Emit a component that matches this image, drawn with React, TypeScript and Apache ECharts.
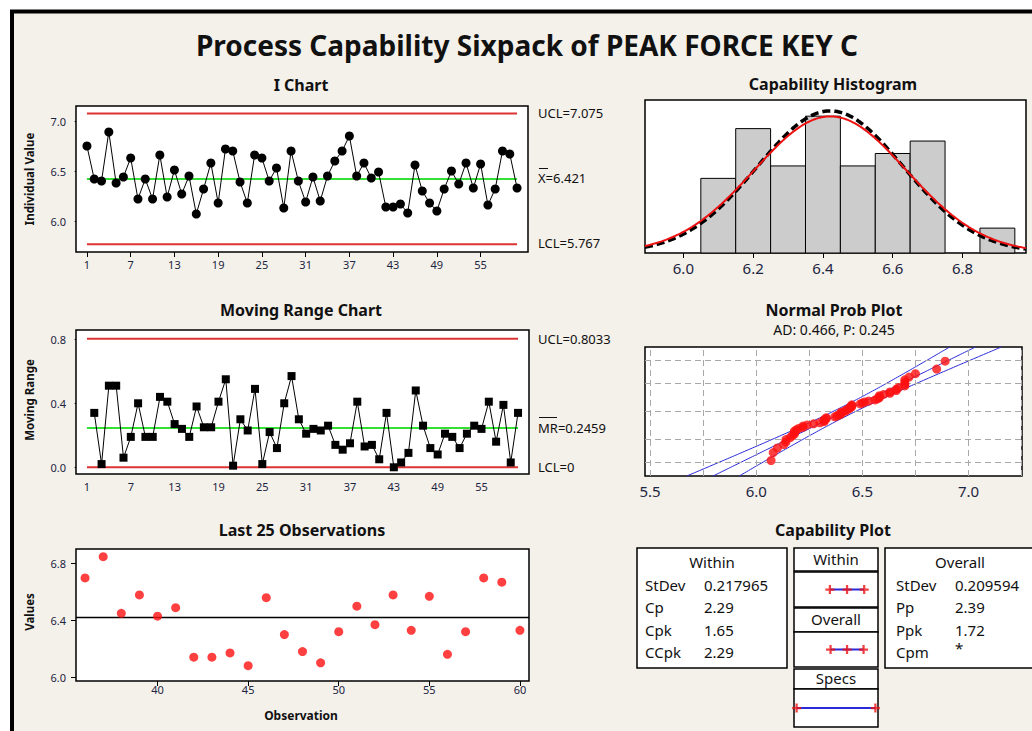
import React, { useEffect, useRef } from 'react';
import * as echarts from 'echarts';

// ---------------- data ----------------
const iValues = [
  6.75, 6.42, 6.40, 6.89, 6.38, 6.44, 6.63, 6.22, 6.42, 6.22,
  6.66, 6.24, 6.51, 6.27, 6.45, 6.07, 6.32, 6.58, 6.18, 6.72,
  6.70, 6.39, 6.18, 6.66, 6.63, 6.40, 6.53, 6.13, 6.70, 6.40,
  6.19, 6.44, 6.20, 6.45, 6.60, 6.70, 6.85, 6.45, 6.58, 6.43,
  6.49, 6.14, 6.14, 6.17, 6.08, 6.56, 6.30, 6.18, 6.10, 6.32,
  6.50, 6.37, 6.58, 6.33, 6.57, 6.16, 6.32, 6.70, 6.67, 6.33,
];
// moving ranges, observations 2..60
const mrValues = [
  0.34, 0.02, 0.51, 0.51, 0.06, 0.19, 0.40, 0.19, 0.19,
  0.44, 0.41, 0.27, 0.24, 0.19, 0.38, 0.25, 0.25, 0.41, 0.55,
  0.01, 0.30, 0.23, 0.49, 0.02, 0.22, 0.12, 0.40, 0.57, 0.30,
  0.21, 0.24, 0.23, 0.26, 0.14, 0.11, 0.15, 0.41, 0.13, 0.14,
  0.05, 0.34, 0.00, 0.03, 0.09, 0.48, 0.26, 0.12, 0.08, 0.21,
  0.19, 0.12, 0.21, 0.26, 0.24, 0.41, 0.16, 0.39, 0.03, 0.34,
];
const lastCount = 25;

const obsTicks = [1, 7, 13, 19, 25, 31, 37, 43, 49, 55];
const iYTicks = [6.0, 6.5, 7.0];
const mrYTicks = [0.0, 0.4, 0.8];
const lastXTicks = [40, 45, 50, 55, 60];
const lastYTicks = [6.0, 6.4, 6.8];

const histBinStarts = [6.05, 6.15, 6.25, 6.35, 6.45, 6.55, 6.65, 6.75, 6.85];
const histCounts = [6, 10, 7, 11, 7, 8, 9, 0, 2];
const histBinWidth = 0.1;
const histTicks = [6.0, 6.2, 6.4, 6.6, 6.8];

const probXTicks = [5.5, 5.75, 6.0, 6.25, 6.5, 6.75, 7.0, 7.25];
const probGridPercents = [1, 10, 50, 90, 99];

const mean = 6.421;
const ucl = 7.075;
const lcl = 5.767;
const mrBar = 0.2459;
const mrUcl = 0.8033;
const mrLcl = 0;
const stdevWithin = 0.217965;
const stdevOverall = 0.209594;
const lsl = 4.5;
const usl = 7.5;

const withinStats = [['StDev', stdevWithin.toFixed(6)], ['Cp', '2.29'], ['Cpk', '1.65'], ['CCpk', '2.29']];
const overallStats = [['StDev', stdevOverall.toFixed(6)], ['Pp', '2.39'], ['Ppk', '1.72'], ['Cpm', '*']];

// ---------------- helpers ----------------
const FONT = '"Noto Sans", "DejaVu Sans", sans-serif';
const LABEL_COLOR = '#1c2541';
const RED = '#dd3333';
const GREEN = '#33e033';
const BLUE = '#2a2ad8';
const PLUS = 'path://M3,0h2v3h3v2h-3v3h-2v-3h-3v-2h3z';

function invNorm(p: number): number {
  const a = [-3.969683028665376e1, 2.209460984245205e2, -2.759285104469687e2, 1.38357751867269e2, -3.066479806614716e1, 2.506628277459239];
  const b = [-5.447609879822406e1, 1.615858368580409e2, -1.556989798598866e2, 6.680131188771972e1, -1.328068155288572e1];
  const c = [-7.784894002430293e-3, -3.223964580411365e-1, -2.400758277161838, -2.549732539343734, 4.374664141464968, 2.938163982698783];
  const d = [7.784695709041462e-3, 3.224671290700398e-1, 2.445134137142996, 3.754408661907416];
  const pl = 0.02425;
  if (p < pl) {
    const q = Math.sqrt(-2 * Math.log(p));
    return (((((c[0] * q + c[1]) * q + c[2]) * q + c[3]) * q + c[4]) * q + c[5]) / ((((d[0] * q + d[1]) * q + d[2]) * q + d[3]) * q + 1);
  }
  if (p <= 1 - pl) {
    const q = p - 0.5, r = q * q;
    return ((((((a[0] * r + a[1]) * r + a[2]) * r + a[3]) * r + a[4]) * r + a[5]) * q) / (((((b[0] * r + b[1]) * r + b[2]) * r + b[3]) * r + b[4]) * r + 1);
  }
  const q = Math.sqrt(-2 * Math.log(1 - p));
  return -(((((c[0] * q + c[1]) * q + c[2]) * q + c[3]) * q + c[4]) * q + c[5]) / ((((d[0] * q + d[1]) * q + d[2]) * q + d[3]) * q + 1);
}

function axis(gridIndex: number, min: number, max: number, ticks: number[], fontSize: number, margin: number, fmt: (v: number) => string) {
  return {
    type: 'value', gridIndex, min, max,
    axisLine: { show: false },
    splitLine: { show: false },
    axisTick: { show: true, customValues: ticks, length: 5, lineStyle: { color: '#000', width: 1 } },
    axisLabel: { show: true, customValues: ticks, fontSize, fontFamily: FONT, color: LABEL_COLOR, margin, formatter: fmt },
  };
}
function hidden(gridIndex: number, min: number, max: number) {
  return { type: 'value', gridIndex, min, max, show: false };
}
const f0 = (v: number) => String(Math.round(v));
const f1 = (v: number) => v.toFixed(1);

function text(x: number, y: number, t: string, font: string, align = 'center', extra: any = {}) {
  return {
    type: 'text', x, y, z: 20, ...extra,
    style: { text: t, font, fill: '#111', textAlign: align, textVerticalAlign: 'middle', verticalAlign: 'middle' },
  };
}
function box(x: number, y: number, w: number, h: number) {
  return { type: 'rect', z: 1, shape: { x, y, width: w, height: h }, style: { fill: '#fff', stroke: '#000', lineWidth: 1.5 } };
}
function ctrlLine(xi: number, x0: number, x1: number, y: number, color: string, width = 2) {
  return {
    type: 'line', xAxisIndex: xi, yAxisIndex: xi, data: [[x0, y], [x1, y]],
    symbol: 'none', lineStyle: { color, width }, silent: true, z: 3,
  };
}

export default function App() {
  const ref = useRef<HTMLDivElement>(null);

  useEffect(() => {
    document.body.style.margin = '0';
    if (!ref.current) return;
    const chart = echarts.init(ref.current, null, { renderer: 'svg' });
    const n = iValues.length;

    const iData = iValues.map((v, i) => [i + 1, v]);
    const mrData = mrValues.map((v, i) => [i + 2, v]);
    const lastData = iValues.slice(n - lastCount).map((v, i) => [n - lastCount + 1 + i, v]);

    const histMin = 5.89, histMax = 6.982;
    const curve = (sd: number) => {
      const pts: number[][] = [];
      for (let k = 0; k <= 220; k++) {
        const x = histMin + ((histMax - histMin) * k) / 220;
        const y = (n * histBinWidth) / (sd * Math.sqrt(2 * Math.PI)) * Math.exp(-0.5 * ((x - mean) / sd) ** 2);
        pts.push([x, y]);
      }
      return pts;
    };

    const zMin = -2.98, zMax = 2.92;
    const sorted = [...iValues].sort((a, b) => a - b);
    const probPts = sorted.map((v, i) => [v, invNorm((i + 1 - 0.3) / (n + 0.4))]);
    const fitLine: number[][] = [], bandLo: number[][] = [], bandHi: number[][] = [];
    for (let k = 0; k <= 120; k++) {
      const z = zMin + ((zMax - zMin) * k) / 120;
      const fit = mean + z * stdevOverall;
      const se = stdevOverall * Math.sqrt(1 / n + (z * z) / (2 * n));
      fitLine.push([fit, z]);
      bandLo.push([fit - 1.96 * se, z]);
      bandHi.push([fit + 1.96 * se, z]);
    }
    const zTicks = probGridPercents.map((p) => invNorm(p / 100));

    const wLo = mean - 3 * stdevWithin, wHi = mean + 3 * stdevWithin;
    const oLo = mean - 3 * stdevOverall, oHi = mean + 3 * stdevOverall;

    const grids = [
      { left: 76, top: 106, width: 452, height: 146 },
      { left: 76, top: 330, width: 453, height: 144 },
      { left: 76, top: 549, width: 453, height: 132 },
      { left: 645, top: 100, width: 381, height: 153 },
      { left: 645, top: 347, width: 377, height: 129 },
      { left: 794, top: 572, width: 84, height: 35 },
      { left: 794, top: 632, width: 84, height: 35 },
      { left: 794, top: 689, width: 84, height: 38 },
    ].map((g, i) => ({
      ...g,
      show: i < 5,
      backgroundColor: '#fff',
      borderColor: '#000',
      borderWidth: 1.5,
      z: 1,
    }));

    const xAxes = [
      axis(0, -0.5, 61.5, obsTicks, 11, 7, f0),
      axis(1, -0.5, 61.5, obsTicks, 11, 7, f0),
      axis(2, 35.5, 60.5, lastXTicks, 11, 3, f0),
      axis(3, histMin, histMax, histTicks, 15, 7, f1),
      axis(4, 5.476, 7.252, probXTicks, 15, 7, (v: number) => (Math.abs(v * 2 - Math.round(v * 2)) < 1e-6 ? v.toFixed(1) : '')),
      hidden(5, 4.4, 7.6),
      hidden(6, 4.4, 7.6),
      hidden(7, 4.4, 7.6),
    ];
    const yAxes = [
      axis(0, 5.69, 7.15, iYTicks, 11, 10, f1),
      axis(1, -0.042, 0.858, mrYTicks, 11, 10, f1),
      axis(2, 5.972, 6.904, lastYTicks, 11, 10, f1),
      hidden(3, 0, 12.3),
      { ...axis(4, zMin, zMax, zTicks, 11, 8, () => ''), axisTick: { show: true, inside: true, customValues: zTicks, length: 6, lineStyle: { color: '#000' } } },
      hidden(5, 0, 1),
      hidden(6, 0, 1),
      hidden(7, 0, 1),
    ];

    const legendSeries = (gi: number, lo: number, mid: number | null, hi: number) => [
      { type: 'line', xAxisIndex: gi, yAxisIndex: gi, data: [[lo, 0.5], [hi, 0.5]], symbol: 'none', lineStyle: { color: BLUE, width: 2 }, z: 3 },
      {
        type: 'scatter', xAxisIndex: gi, yAxisIndex: gi,
        data: (mid === null ? [lo, hi] : [lo, mid, hi]).map((x) => [x, 0.5]),
        symbol: PLUS, symbolSize: 9, itemStyle: { color: '#ee1111' }, z: 4,
      },
    ];

    const series: any[] = [
      // I chart
      ctrlLine(0, 1, n, ucl, RED),
      ctrlLine(0, 1, n, lcl, RED),
      ctrlLine(0, 1, n, mean, GREEN),
      {
        type: 'line', xAxisIndex: 0, yAxisIndex: 0, data: iData,
        symbol: 'circle', symbolSize: 9, itemStyle: { color: '#000' }, lineStyle: { color: '#000', width: 1 }, z: 5,
      },
      // MR chart
      ctrlLine(1, 1, n, mrUcl, RED),
      ctrlLine(1, 1, n, mrLcl, RED),
      ctrlLine(1, 1, n, mrBar, GREEN),
      {
        type: 'line', xAxisIndex: 1, yAxisIndex: 1, data: mrData,
        symbol: 'rect', symbolSize: 8, itemStyle: { color: '#000' }, lineStyle: { color: '#000', width: 1 }, z: 5,
      },
      // Last 25
      ctrlLine(2, 35.5, 60.5, mean, '#000', 1.5),
      {
        type: 'scatter', xAxisIndex: 2, yAxisIndex: 2, data: lastData,
        symbol: 'circle', symbolSize: 9, itemStyle: { color: '#ff1010' }, z: 5,
      },
      // Histogram
      {
        type: 'custom', xAxisIndex: 3, yAxisIndex: 3,
        data: histBinStarts.map((s, i) => [s, s + histBinWidth, histCounts[i]]),
        encode: { x: [0, 1], y: 2 },
        renderItem: (params: any, api: any) => {
          const c = api.value(2);
          if (!c) return null;
          const p0 = api.coord([api.value(0), c]);
          const p1 = api.coord([api.value(1), 0]);
          return {
            type: 'rect',
            shape: { x: p0[0], y: p0[1], width: p1[0] - p0[0], height: p1[1] - p0[1] },
            style: { fill: '#cccccc', stroke: '#000', lineWidth: 1 },
          };
        },
        z: 2,
      },
      {
        type: 'line', xAxisIndex: 3, yAxisIndex: 3, data: curve(stdevOverall), showSymbol: false, symbol: 'none',
        lineStyle: { color: '#000', width: 3.5, type: [8, 4] }, z: 4,
      },
      {
        type: 'line', xAxisIndex: 3, yAxisIndex: 3, data: curve(stdevWithin), showSymbol: false, symbol: 'none',
        lineStyle: { color: '#ee1111', width: 2 }, z: 5,
      },
      // Normal probability plot
      {
        type: 'line', xAxisIndex: 4, yAxisIndex: 4, data: [], silent: true, z: 2,
        markLine: {
          silent: true, symbol: ['none', 'none'], label: { show: false }, animation: false,
          lineStyle: { type: [6, 4], color: '#a8a8a8', width: 1 },
          data: [...probXTicks.map((x) => ({ xAxis: x })), ...zTicks.map((z) => ({ yAxis: z }))],
        },
      },
      { type: 'line', xAxisIndex: 4, yAxisIndex: 4, data: bandLo, symbol: 'none', lineStyle: { color: BLUE, width: 1 }, z: 3 },
      { type: 'line', xAxisIndex: 4, yAxisIndex: 4, data: fitLine, symbol: 'none', lineStyle: { color: BLUE, width: 1 }, z: 3 },
      { type: 'line', xAxisIndex: 4, yAxisIndex: 4, data: bandHi, symbol: 'none', lineStyle: { color: BLUE, width: 1 }, z: 3 },
      {
        type: 'scatter', xAxisIndex: 4, yAxisIndex: 4, data: probPts,
        symbol: 'circle', symbolSize: 9, itemStyle: { color: '#ff1010' }, z: 5,
      },
      // Capability plot legends
      ...legendSeries(5, wLo, mean, wHi),
      ...legendSeries(6, oLo, mean, oHi),
      ...legendSeries(7, lsl, null, usl),
    ];

    const B = (s: number) => `bold ${s}px ${FONT}`;
    const R = (s: number) => `${s}px ${FONT}`;

    const statRows = (stats: string[][], lx: number, vx: number) =>
      stats.flatMap(([k, v], i) => [
        text(lx, 585 + i * 22.3, k, R(15), 'left'),
        text(vx, v === '*' ? 648 : 585 + i * 22.3, v, R(15), 'left'),
      ]);

    const graphic: any[] = [
      { type: 'rect', z: -10, shape: { x: 12, y: 11.5, width: 1100, height: 800 }, style: { fill: '#f4f0ea', stroke: '#000', lineWidth: 4 } },
      text(527, 45, 'Process Capability Sixpack of PEAK FORCE KEY C', B(28)),
      text(301, 85, 'I Chart', B(16)),
      text(301, 310, 'Moving Range Chart', B(16)),
      text(302, 530, 'Last 25 Observations', B(16)),
      text(833, 84, 'Capability Histogram', B(16)),
      text(834, 310, 'Normal Prob Plot', B(16)),
      text(834, 329, 'AD: 0.466, P: 0.245', R(14)),
      text(833, 530, 'Capability Plot', B(16)),
      // axis titles
      text(29, 179, 'Individual Value', B(11.5), 'center', { rotation: Math.PI / 2 }),
      text(29, 400, 'Moving Range', B(11.5), 'center', { rotation: Math.PI / 2 }),
      text(29, 612, 'Values', B(11.5), 'center', { rotation: Math.PI / 2 }),
      text(301, 715, 'Observation', B(12)),
      // control-limit labels
      text(538, 113, `UCL=${ucl.toFixed(3)}`, R(13), 'left'),
      text(538, 178, `X=${mean.toFixed(3)}`, R(13), 'left'),
      { type: 'line', z: 20, shape: { x1: 539, y1: 168.5, x2: 548, y2: 168.5 }, style: { stroke: '#111', lineWidth: 1 } },
      text(538, 243, `LCL=${lcl.toFixed(3)}`, R(13), 'left'),
      text(538, 339, `UCL=${mrUcl.toFixed(4)}`, R(13), 'left'),
      text(538, 428, `MR=${mrBar.toFixed(4)}`, R(13), 'left'),
      { type: 'line', z: 20, shape: { x1: 539, y1: 417.5, x2: 557, y2: 417.5 }, style: { stroke: '#111', lineWidth: 1 } },
      text(538, 467, `LCL=${mrLcl}`, R(13), 'left'),
      // capability boxes
      box(637, 548, 150, 120),
      box(794, 548, 84, 23),
      box(794, 572, 84, 35),
      box(794, 608, 84, 24),
      box(794, 632, 84, 35),
      box(794, 669, 84, 20),
      box(794, 689, 84, 38),
      box(885, 548, 160, 120),
      text(712, 562, 'Within', R(15)),
      text(836, 559, 'Within', R(15)),
      text(836, 619, 'Overall', R(15)),
      text(836, 678, 'Specs', R(15)),
      text(960, 562, 'Overall', R(15)),
      ...statRows(withinStats, 645, 704),
      ...statRows(overallStats, 896, 955),
    ];

    chart.setOption({
      animation: false,
      backgroundColor: '#ffffff',
      grid: grids,
      xAxis: xAxes,
      yAxis: yAxes,
      series,
      graphic: { elements: graphic },
    });

    return () => chart.dispose();
  }, []);

  return <div ref={ref} style={{ width: 1032, height: 731 }} />;
}
